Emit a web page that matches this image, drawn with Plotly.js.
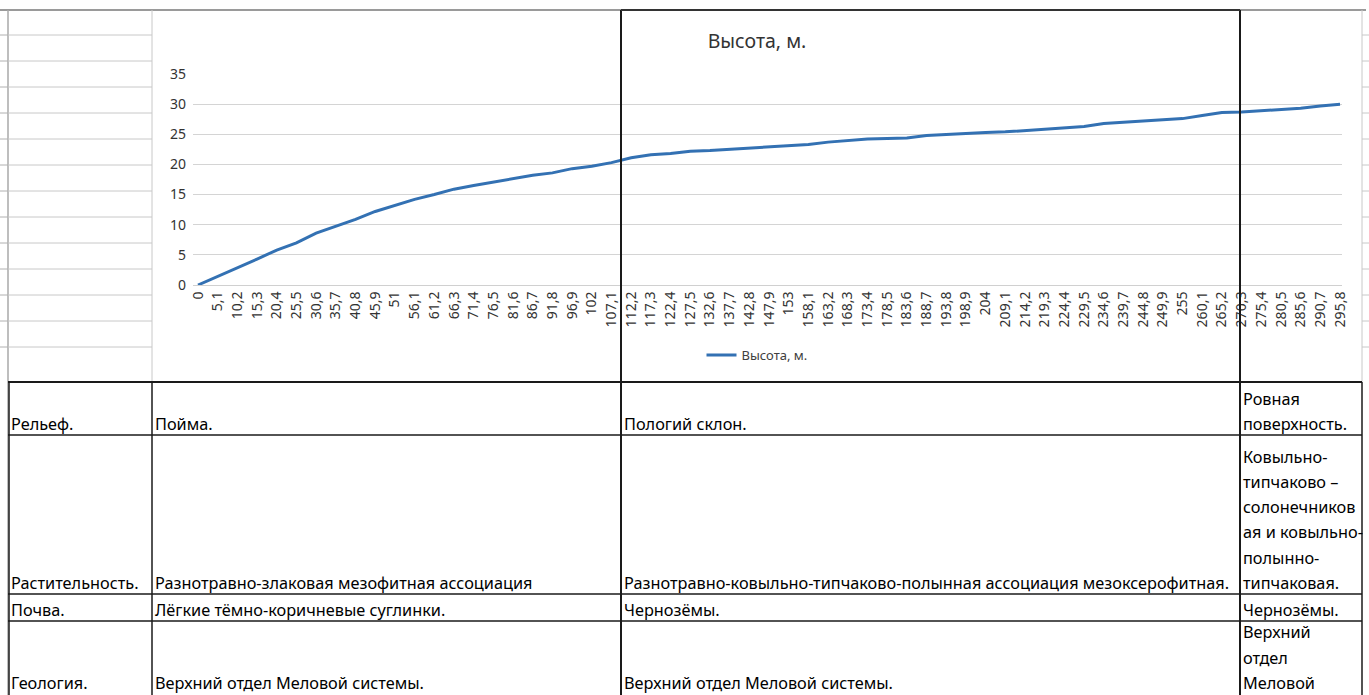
<!DOCTYPE html>
<html><head><meta charset="utf-8">
<script src="https://cdn.plot.ly/plotly-3.0.1.min.js"></script>
<style>html,body{margin:0;padding:0;background:#fff;overflow:hidden}#chart{width:1369px;height:695px}</style>
</head><body><div id="chart"></div><script>
// ---- data ----
const chartTitle = "Высота, м.";
const seriesName = "Высота, м.";
const distances = ["0","5,1","10,2","15,3","20,4","25,5","30,6","35,7","40,8","45,9","51","56,1","61,2","66,3","71,4","76,5","81,6","86,7","91,8","96,9","102","107,1",
  "112,2","117,3","122,4","127,5","132,6","137,7","142,8","147,9","153","158,1","163,2","168,3","173,4","178,5","183,6","188,7","193,8","198,9","204","209,1",
  "214,2","219,3","224,4","229,5","234,6","239,7","244,8","249,9","255","260,1","265,2","270,3","275,4","280,5","285,6","290,7","295,8"];
const heights = [0,1.4,2.8,4.3,5.8,7.0,8.6,9.7,10.9,12.2,13.2,14.2,15.0,15.9,16.5,17.1,17.6,18.2,18.6,19.3,19.7,20.3,
  21.1,21.6,21.8,22.2,22.3,22.5,22.8,23.0,23.2,23.3,23.7,24.0,24.2,24.3,24.4,24.8,25.0,25.1,25.3,25.4,
  25.6,25.8,26.0,26.3,26.8,27.0,27.3,27.5,27.6,28.1,28.6,28.7,28.9,29.1,29.3,29.7,30.0];
const yTicks = [0,5,10,15,20,25,30,35];
const rowLabels = ["Рельеф.","Растительность.","Почва.","Геология."];
const zone1 = [["Пойма."],["Разнотравно-злаковая мезофитная ассоциация"],["Лёгкие тёмно-коричневые суглинки."],["Верхний отдел Меловой системы."]];
const zone2 = [["Пологий склон."],["Разнотравно-ковыльно-типчаково-полынная ассоциация мезоксерофитная."],["Чернозёмы."],["Верхний отдел Меловой системы."]];
const zone3 = [["Ровная","поверхность."],["Ковыльно-","типчаково –","солонечников","ая и ковыльно-","полынно-","типчаковая."],["Чернозёмы."],["Верхний","отдел","Меловой"]];

// ---- layout helpers (pixel -> paper) ----
const W = 1369, H = 695;
const px = v => v / W, py = v => 1 - v / H;
const shapes = [];
function hLine(x0, x1, y, color, width) {
  shapes.push({type:'line', xref:'paper', yref:'paper', x0:px(x0), x1:px(x1), y0:py(y), y1:py(y), line:{color:color, width:width}});
}
function vLine(x, y0, y1, color, width) {
  shapes.push({type:'line', xref:'paper', yref:'paper', x0:px(x), x1:px(x), y0:py(y0), y1:py(y1), line:{color:color, width:width}});
}
const grayCell = '#c8c8c8', dark = '#1a1a1a';
// spreadsheet frame above the table
hLine(0, 1366, 10, '#9a9a9a', 2);
vLine(8, 10, 695, '#a8a8a8', 1.5);
vLine(152, 10, 382, grayCell, 1);
vLine(1362, 10, 382, grayCell, 1);
[35, 61, 87, 113, 139, 165, 191, 217, 243, 269, 295, 321, 347].forEach(y => { hLine(8, 152, y, grayCell, 1); hLine(1362, 1369, y, grayCell, 1); });
[35, 61, 87, 113, 139, 165, 191, 217, 243, 269, 295, 321, 347].forEach(y => hLine(0, 8, y, '#b0b0b0', 1));
// table borders
hLine(8, 1362, 382, dark, 2);
hLine(8, 1362, 435, dark, 1.5);
hLine(8, 1362, 594, dark, 1.5);
hLine(8, 1362, 621, dark, 1.5);
vLine(9, 382, 695, dark, 1.5);
vLine(152, 382, 695, dark, 1.5);
vLine(1362, 382, 695, dark, 1.5);
// zone dividers through chart and table
vLine(621, 10, 695, dark, 2);
vLine(1240, 10, 695, dark, 2);
hLine(621, 1240, 10, '#333', 2);

// ---- table text ----
const annotations = [];
const rowBottoms = [435, 594, 621, 694];
const lineStep = 25.3;
const fontFam = 'Noto Sans, Open Sans, DejaVu Sans, sans-serif';
function cellText(lines, x, rowIdx) {
  const n = lines.length;
  lines.forEach((t, i) => {
    const yc = rowBottoms[rowIdx] - 11 - (n - 1 - i) * lineStep;
    annotations.push({xref:'paper', yref:'paper', x:px(x), y:py(yc), xanchor:'left', yanchor:'middle',
      text:t, showarrow:false, font:{family:fontFam, size:16.3, color:'#000'}});
  });
}
rowLabels.forEach((t, r) => cellText([t], 9, r));
zone1.forEach((l, r) => cellText(l, 153, r));
zone2.forEach((l, r) => cellText(l, 622, r));
zone3.forEach((l, r) => cellText(l, 1241, r));

const trace = {
  type:'scatter', mode:'lines', x:distances, y:heights, name:seriesName,
  line:{color:'#3371b3', width:3}
};
const layout = {
  width:W, height:H, margin:{l:0, r:0, t:0, b:0},
  paper_bgcolor:'#fff', plot_bgcolor:'rgba(0,0,0,0)',
  font:{family:fontFam, color:'#404040'},
  title:{text:chartTitle, x:px(757), xanchor:'center', y:py(41), yanchor:'middle', xref:'paper', yref:'paper',
    font:{family:fontFam, size:19.5, color:'#333'}},
  showlegend:true,
  legend:{orientation:'h', x:px(757), xanchor:'center', y:py(355), yanchor:'middle', bgcolor:'rgba(0,0,0,0)',
    font:{family:fontFam, size:13, color:'#404040'}},
  xaxis:{type:'category', domain:[px(193), px(1342)], anchor:'y', range:[-0.254, 58.1],
    tickmode:'array', tickvals:distances, ticktext:distances, tickangle:-90,
    tickfont:{family:fontFam, size:14, color:'#333'}, showgrid:false, zeroline:false,
    showline:true, linecolor:'#d0d0d0', linewidth:1, ticks:''},
  yaxis:{domain:[py(285), py(74)], range:[0, 35], tickmode:'array', tickvals:yTicks,
    tickfont:{family:fontFam, size:14, color:'#333'}, showgrid:true, gridcolor:'#d4d4d4', gridwidth:1,
    zeroline:false, showline:false, ticks:'', ticklabelstandoff:6},
  shapes:shapes, annotations:annotations
};
Plotly.newPlot('chart', [trace], layout, {staticPlot:true, displayModeBar:false});
</script></body></html>
